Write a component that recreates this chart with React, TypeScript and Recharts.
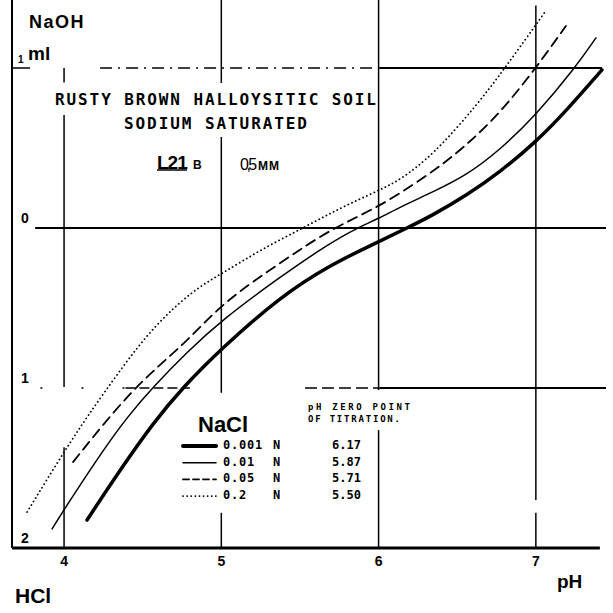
import React from 'react';
import { LineChart, Line, XAxis, YAxis, ReferenceLine } from 'recharts';

// pH vs ml of titrant (NaOH positive, HCl negative)
const phTicks = [4, 5, 6, 7];
const mlTicks = [-2, -1, 0, 1];
const mlTickLabels = ['2', '1', '0', '1'];

const naclLabels = ['0.001', '0.01', '0.05', '0.2'];
const zeroPoints = ['6.17', '5.87', '5.71', '5.50'];

const curve0001 = [
  { ph: 4.146, ml: -1.825 }, { ph: 4.356, ml: -1.513 }, { ph: 4.566, ml: -1.219 },
  { ph: 4.757, ml: -0.994 }, { ph: 5.004, ml: -0.75 }, { ph: 5.373, ml: -0.431 },
  { ph: 5.691, ml: -0.231 }, { ph: 6.009, ml: -0.081 }, { ph: 6.181, ml: 0 },
  { ph: 6.346, ml: 0.081 }, { ph: 6.562, ml: 0.206 }, { ph: 6.772, ml: 0.35 },
  { ph: 7.001, ml: 0.538 }, { ph: 7.198, ml: 0.738 }, { ph: 7.42, ml: 0.988 },
];
const curve001 = [
  { ph: 3.924, ml: -1.881 }, { ph: 4.006, ml: -1.75 }, { ph: 4.248, ml: -1.388 },
  { ph: 4.407, ml: -1.175 }, { ph: 4.566, ml: -0.994 }, { ph: 4.782, ml: -0.775 },
  { ph: 5.004, ml: -0.575 }, { ph: 5.373, ml: -0.306 }, { ph: 5.691, ml: -0.094 },
  { ph: 5.863, ml: 0 }, { ph: 6.009, ml: 0.063 }, { ph: 6.136, ml: 0.131 },
  { ph: 6.346, ml: 0.225 }, { ph: 6.562, ml: 0.331 }, { ph: 6.772, ml: 0.488 },
  { ph: 7.001, ml: 0.706 }, { ph: 7.249, ml: 1.0 }, { ph: 7.382, ml: 1.188 },
];
const curve005 = [
  { ph: 4.057, ml: -1.463 }, { ph: 4.439, ml: -0.994 }, { ph: 4.782, ml: -0.713 },
  { ph: 5.004, ml: -0.469 }, { ph: 5.373, ml: -0.219 }, { ph: 5.704, ml: 0 },
  { ph: 6.009, ml: 0.131 }, { ph: 6.39, ml: 0.381 }, { ph: 6.581, ml: 0.538 },
  { ph: 6.772, ml: 0.719 }, { ph: 7.001, ml: 1.0 }, { ph: 7.191, ml: 1.263 },
];
const curve02 = [
  { ph: 3.765, ml: -1.775 }, { ph: 4.006, ml: -1.388 }, { ph: 4.146, ml: -1.181 },
  { ph: 4.356, ml: -0.888 }, { ph: 4.566, ml: -0.619 }, { ph: 4.82, ml: -0.388 },
  { ph: 5.011, ml: -0.281 }, { ph: 5.246, ml: -0.138 }, { ph: 5.519, ml: 0 },
  { ph: 5.755, ml: 0.125 }, { ph: 6.009, ml: 0.238 }, { ph: 6.136, ml: 0.3 },
  { ph: 6.346, ml: 0.456 }, { ph: 6.626, ml: 0.769 }, { ph: 6.804, ml: 1.0 },
  { ph: 7.058, ml: 1.35 },
];

const seriesStyles = [
  { data: curve0001, width: 3.5, dash: undefined },
  { data: curve001, width: 1.5, dash: undefined },
  { data: curve005, width: 1.8, dash: '10 6' },
  { data: curve02, width: 1.8, dash: '0.1 4' },
];

const PH_MIN = 3.669;
const PH_MAX = 7.446;
const ML_MIN = -2;
const ML_MAX = 1.425;

const bold = 'Liberation Sans, Arial, sans-serif';
const mono = 'DejaVu Sans Mono, monospace';

const XTick = (props: any) => {
  const { x, y, payload } = props;
  return (
    <text x={x} y={y + 18} textAnchor="middle" fontFamily={bold} fontWeight="bold" fontSize={14} fill="#000">
      {payload.value}
    </text>
  );
};

const YTick = (props: any) => {
  const { x, y, payload } = props;
  const i = mlTicks.indexOf(payload.value);
  if (payload.value === 1) {
    return (
      <text x={x + 6} y={y - 5} fontFamily={bold} fontWeight="bold" fill="#000">
        <tspan fontSize={10}>1</tspan>
        <tspan x={x + 16} dy={-3} fontSize={19}>ml</tspan>
      </text>
    );
  }
  return (
    <text x={x + 13} y={y - 5} textAnchor="middle" fontFamily={bold} fontWeight="bold" fontSize={14} fill="#000">
      {mlTickLabels[i]}
    </text>
  );
};

const seg = (x1: number, y1: number, x2: number, y2: number) => [{ x: x1, y: y1 }, { x: x2, y: y2 }];

const App: React.FC = () => {
  return (
    <div style={{ position: 'absolute', left: 0, top: 0, width: 613, height: 613, background: '#fff' }}>
      <LineChart width={613} height={613} margin={{ top: 0, right: 7, bottom: 0, left: 0 }}>
        <XAxis
          dataKey="ph"
          type="number"
          domain={[PH_MIN, PH_MAX]}
          ticks={phTicks}
          allowDataOverflow
          axisLine={false}
          tickLine={false}
          tickSize={0}
          tickMargin={0}
          height={65}
          tick={<XTick />}
        />
        <YAxis
          type="number"
          domain={[ML_MIN, ML_MAX]}
          ticks={mlTicks}
          allowDataOverflow
          width={12}
          axisLine={{ stroke: '#000', strokeWidth: 2 }}
          tickLine={false}
          tickSize={0}
          tickMargin={0}
          tick={<YTick />}
        />

        {/* vertical grid pieces */}
        <ReferenceLine segment={seg(4, 1.0, 4, 0.91)} stroke="#000" strokeWidth={1.5} />
        <ReferenceLine segment={seg(4, 0.706, 4, -0.994)} stroke="#000" strokeWidth={1.5} />
        <ReferenceLine segment={seg(4, -1.37, 4, -2)} stroke="#000" strokeWidth={1.5} />
        <ReferenceLine segment={seg(5, 1.425, 5, 0.906)} stroke="#000" strokeWidth={1.5} />
        <ReferenceLine segment={seg(5, 0.569, 5, -1.03)} stroke="#000" strokeWidth={1.5} />
        <ReferenceLine segment={seg(5, -1.78, 5, -2)} stroke="#000" strokeWidth={1.5} />
        <ReferenceLine segment={seg(6, 1.425, 6, -1.013)} stroke="#000" strokeWidth={1.5} />
        <ReferenceLine segment={seg(6, -1.263, 6, -2)} stroke="#000" strokeWidth={1.5} />
        <ReferenceLine segment={seg(7, 1.39, 7, -1.7)} stroke="#000" strokeWidth={1.5} />
        <ReferenceLine segment={seg(7, -1.78, 7, -2)} stroke="#000" strokeWidth={1.5} />

        {/* horizontal grid pieces */}
        <ReferenceLine segment={seg(3.669, 1, 3.784, 1)} stroke="#000" strokeWidth={1.5} />
        <ReferenceLine segment={seg(4.229, 1, 6.009, 1)} stroke="#000" strokeWidth={1.5} strokeDasharray="12 6 2 6" />
        <ReferenceLine segment={seg(6.009, 1, 7.42, 1)} stroke="#000" strokeWidth={2} />
        <ReferenceLine segment={seg(3.816, 0, 7.446, 0)} stroke="#000" strokeWidth={2} />
        <ReferenceLine segment={seg(3.85, -1, 4.39, -1)} stroke="#000" strokeWidth={1.5} strokeDasharray="2 39" />
        <ReferenceLine segment={seg(4.39, -1, 4.8, -1)} stroke="#000" strokeWidth={1.5} strokeDasharray="10 4" />
        <ReferenceLine segment={seg(5.532, -1, 6.009, -1)} stroke="#000" strokeWidth={1.5} strokeDasharray="12 5" />
        <ReferenceLine segment={seg(6.009, -1, 7.446, -1)} stroke="#000" strokeWidth={1.8} />
        <ReferenceLine segment={seg(3.669, -2, 7.407, -2)} stroke="#000" strokeWidth={3} />

        {seriesStyles.map((s, i) => (
          <Line
            key={naclLabels[i]}
            data={s.data}
            dataKey="ml"
            type="basis"
            stroke="#000"
            strokeWidth={s.width}
            strokeDasharray={s.dash}
            strokeLinecap="round"
            dot={false}
            activeDot={false}
            isAnimationActive={false}
          />
        ))}
      </LineChart>

      <svg width={613} height={613} style={{ position: 'absolute', left: 0, top: 0, pointerEvents: 'none' }}>
        <text x={29} y={28} fontFamily={bold} fontWeight="bold" fontSize={18} letterSpacing={1.5}>NaOH</text>
        <text x={15} y={603} fontFamily={bold} fontWeight="bold" fontSize={21}>HCl</text>
        <text x={557} y={588} fontFamily={bold} fontWeight="bold" fontSize={19}>pH</text>

        <text x={55} y={105} fontFamily={mono} fontWeight="bold" fontSize={16} textLength={321} lengthAdjust="spacing">
          RUSTY BROWN HALLOYSITIC SOIL
        </text>
        <text x={124} y={129} fontFamily={mono} fontWeight="bold" fontSize={16} textLength={183} lengthAdjust="spacing">
          SODIUM SATURATED
        </text>
        <text x={157} y={169} fontFamily={bold} fontWeight="bold">
          <tspan fontSize={19} letterSpacing={-1}>L21</tspan>
          <tspan x={193} fontSize={12}>B</tspan>
        </text>
        <line x1={157} y1={170} x2={187} y2={170} stroke="#000" strokeWidth={1.5} />
        <text x={240} y={170} fontFamily={bold}>
          <tspan fontSize={16} letterSpacing={-2.5}>0,5</tspan>
          <tspan x={258} fontSize={12} fontWeight="bold" letterSpacing={1}>MM</tspan>
        </text>

        <text x={198} y={432} fontFamily={bold} fontWeight="bold" fontSize={22}>NaCl</text>
        <text x={308} y={410} fontFamily={mono} fontWeight="bold" fontSize={9} textLength={102} lengthAdjust="spacing">pH ZERO POINT</text>
        <text x={308} y={422} fontFamily={mono} fontWeight="bold" fontSize={9} textLength={92} lengthAdjust="spacing">OF TITRATION.</text>
        {naclLabels.map((lab, i) => {
          const y = 446 + i * 16.7;
          const s = seriesStyles[i];
          return (
            <g key={lab}>
              <line x1={183} y1={y} x2={216} y2={y} stroke="#000" strokeWidth={s.width === 3.5 ? 4 : s.width}
                strokeDasharray={s.dash === '10 6' ? '6 4' : s.dash} strokeLinecap="round" />
              <text x={223} y={y + 3} fontFamily={mono} fontWeight="bold" fontSize={12} letterSpacing={0.8}>{lab}</text>
              <text x={273} y={y + 3} fontFamily={mono} fontWeight="bold" fontSize={12}>N</text>
              <text x={332} y={y + 3} fontFamily={mono} fontWeight="bold" fontSize={12}>{zeroPoints[i]}</text>
            </g>
          );
        })}
      </svg>
    </div>
  );
};

export default App;
